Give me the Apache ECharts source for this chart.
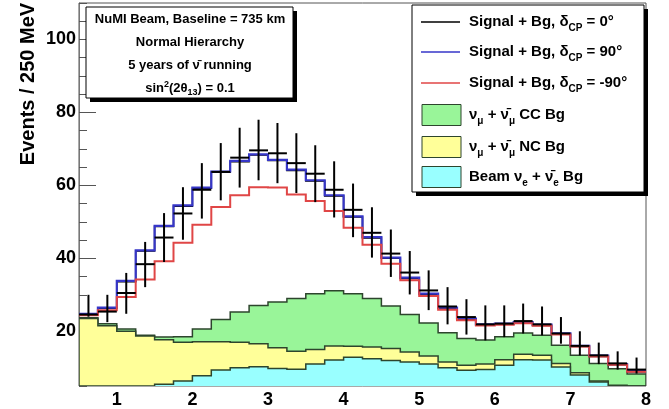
<!DOCTYPE html>
<html>
<head>
<meta charset="utf-8">
<script src="https://cdn.jsdelivr.net/npm/echarts@6/dist/echarts.min.js"></script>
<style>
html,body{margin:0;padding:0;background:#fff;}
#chart{width:669px;height:409px;}
</style>
</head>
<body>
<div id="chart"></div>
<script>
// ---------- data ----------
const binEdges = [0.5,0.75,1.0,1.25,1.5,1.75,2.0,2.25,2.5,2.75,3.0,3.25,3.5,3.75,4.0,4.25,4.5,4.75,5.0,5.25,5.5,5.75,6.0,6.25,6.5,6.75,7.0,7.25,7.5,7.75,8.0];
// background components (events / 250 MeV)
const beamNueBg = [2.5,3.2,4.0,4.9,5.5,6.4,7.8,9.4,10.0,10.3,9.8,9.6,11.0,12.1,12.9,12.5,12.0,11.6,11.0,10.0,9.3,9.5,10.7,12.2,12.1,10.2,8.0,6.1,4.9,4.4];
const ncBg      = [21.0,18.3,16.0,13.8,12.2,10.6,9.3,7.7,7.0,6.3,5.7,4.9,4.0,3.9,3.0,3.2,3.3,2.7,2.2,1.6,1.4,1.5,1.5,1.5,1.3,1.0,0.6,0.3,0.3,0.4];
const ccBg      = [0.2,0.6,0.6,0.2,0.7,1.5,3.5,6.1,8.3,10.5,12.5,14.5,15.3,15.1,14.4,13.3,11.6,10.3,9.1,8.0,7.3,6.6,6.3,5.8,5.5,5.0,4.8,4.8,4.5,3.5];
// signal + background predictions
const sigBgCP0   = [24.6,26.3,33.6,42.0,48.7,54.3,59.2,63.6,66.5,68.3,66.8,64.1,61.2,57.1,51.3,45.6,40.0,34.5,30.1,26.3,23.3,21.7,21.9,22.3,21.6,19.2,15.8,13.1,10.8,8.9];
const sigBgCP90  = [24.8,26.5,33.8,42.2,48.9,54.5,59.4,63.8,66.7,68.5,67.0,64.3,61.4,57.3,51.5,45.8,40.2,34.7,30.3,26.5,23.5,21.9,22.1,22.5,21.8,19.4,16.0,13.3,11.0,9.1];
const sigBgCPm90 = [24.4,25.8,29.4,34.2,39.2,44.3,49.2,54.1,57.3,59.5,59.4,57.5,55.7,53.0,48.4,43.7,38.5,34.0,29.7,25.9,23.0,21.6,21.8,22.2,21.5,19.1,15.8,13.1,10.8,8.9];
// pseudo-data points with error bar extents
const dataVal = [24.6,25.4,30.5,38.4,45.7,52.3,58.8,63.7,67.6,69.6,68.8,66.1,63.2,58.8,53.3,47.0,41.3,36.1,31.2,26.8,23.9,21.9,22.1,22.8,21.9,19.4,16.0,13.4,11.2,9.5];
const dataLo  = [24.0,22.5,24.8,32.1,39.0,45.1,50.9,55.9,59.4,61.4,60.6,57.9,55.4,51.2,45.8,40.2,34.9,30.1,25.8,21.9,19.1,17.5,18.4,19.4,18.9,16.6,13.4,11.0,9.5,8.4];
const dataHi  = [30.0,30.0,36.0,44.5,52.4,59.5,66.1,71.6,75.8,78.0,77.1,74.3,71.0,66.6,60.5,54.0,47.9,42.0,36.7,32.1,28.8,27.1,27.1,27.6,26.8,23.9,20.0,16.9,14.5,12.8];
// axis ticks
const xTickLabels = [1,2,3,4,5,6,7,8];
const yMajorTicks = [20,40,60,80,100];
const yMinorTicks = [5,10,15,25,30,35,45,50,55,65,70,75,85,90,95,105,110];
const Y_MIN = 5, Y_MAX = 110, X_MIN = 0.5, X_MAX = 8;

// ---------- helpers ----------
const FONT = '"Liberation Sans", Arial, Helvetica, sans-serif';
const stackNC = beamNueBg.map((v,i)=>v+ncBg[i]);
const stackCC = stackNC.map((v,i)=>v+ccBg[i]);

function clampV(v){ return Math.max(Y_MIN, Math.min(Y_MAX, v)); }

function histSeries(name, values, fill, stroke, lw, z){
  return {
    type:'custom', name:name, z:z, silent:true, clip:true,
    data:[[binEdges[0], Y_MIN]],
    renderItem:function(params, api){
      const pts = [];
      pts.push(api.coord([binEdges[0], Y_MIN]));
      for(let i=0;i<values.length;i++){
        const v = clampV(values[i]);
        pts.push(api.coord([binEdges[i], v]));
        pts.push(api.coord([binEdges[i+1], v]));
      }
      pts.push(api.coord([binEdges[binEdges.length-1], Y_MIN]));
      const children = [];
      if(fill){
        children.push({type:'polygon', shape:{points:pts}, style:{fill:fill, stroke:null}});
        children.push({type:'polyline', shape:{points:pts}, style:{fill:null, stroke:stroke, lineWidth:lw}});
      } else {
        children.push({type:'polyline', shape:{points:pts.slice(1,-1)}, style:{fill:null, stroke:stroke, lineWidth:lw}});
      }
      return {type:'group', children:children};
    }
  };
}

const pointData = dataVal.map((v,i)=>[i, v, dataLo[i], dataHi[i]]);
const pointsSeries = {
  type:'custom', name:'data', z:10, silent:true, clip:true,
  data: pointData,
  renderItem:function(params, api){
    const i = api.value(0);
    const xl = binEdges[i], xr = binEdges[i+1], xc = (xl+xr)/2;
    const pL = api.coord([xc, clampV(api.value(2))]);
    const pH = api.coord([xc, clampV(api.value(3))]);
    const a = api.coord([xl, clampV(api.value(1))]);
    const b = api.coord([xr, clampV(api.value(1))]);
    return {type:'group', children:[
      {type:'line', shape:{x1:pL[0], y1:pL[1], x2:pH[0], y2:pH[1]}, style:{stroke:'#000', lineWidth:2}},
      {type:'line', shape:{x1:a[0], y1:a[1], x2:b[0], y2:b[1]}, style:{stroke:'#000', lineWidth:2}}
    ]};
  }
};

// composite text with sub/superscripts, built from measured pieces
const measCtx = document.createElement('canvas').getContext('2d');
function measure(t, size){ measCtx.font = 'bold ' + size + 'px ' + FONT; return measCtx.measureText(t).width; }
function compositeText(parts, x, y, align, baseSize, z){
  // parts: [text, size, dy]
  const widths = parts.map(p=>measure(p[0], p[1]));
  const total = widths.reduce((a,b)=>a+b,0);
  let cx = align==='center' ? x - total/2 : x;
  const out = [];
  parts.forEach((p,k)=>{
    const size = p[1], dy = p[2]||0;
    const cy = y + 0.35*baseSize + dy - 0.35*size;
    out.push({type:'text', z:z, x:cx, y:cy, style:{text:p[0], font:'bold '+size+'px '+FONT, fill:'#000', align:'left', verticalAlign:'middle'}});
    cx += widths[k];
  });
  return out;
}

// ---------- legend / text box graphics ----------
const SUB = 4, SUP = -6;
const legendX = 412, legendY = 5, legendW = 232, legendH = 187;
const legendRowsY = [22, 52, 83, 115, 147, 177];
const legendEntries = [
  {kind:'line', color:'#000000', parts:[['Signal + Bg, δ',15],['CP',10,SUB],[' = 0°',15]]},
  {kind:'line', color:'#3636c8', parts:[['Signal + Bg, δ',15],['CP',10,SUB],[' = 90°',15]]},
  {kind:'line', color:'#e04646', parts:[['Signal + Bg, δ',15],['CP',10,SUB],[' = -90°',15]]},
  {kind:'box', color:'#99f599', parts:[['ν',15],['μ',10,SUB],[' + ν̄',15],['μ',10,SUB],[' CC Bg',15]]},
  {kind:'box', color:'#ffff99', parts:[['ν',15],['μ',10,SUB],[' + ν̄',15],['μ',10,SUB],[' NC Bg',15]]},
  {kind:'box', color:'#99ffff', parts:[['Beam ν',15],['e',10,SUB],[' + ν̄',15],['e',10,SUB],[' Bg',15]]}
];
let graphics = [];
// info box
graphics.push({type:'rect', z:100, shape:{x:90, y:11, width:207, height:91}, style:{fill:'#000'}});
graphics.push({type:'rect', z:101, shape:{x:86, y:7, width:207, height:91}, style:{fill:'#fff', stroke:'#000', lineWidth:1}});
const infoLines = [
  [['NuMI Beam, Baseline = 735 km',13]],
  [['Normal Hierarchy',13]],
  [['5 years of ν̄ running',13]],
  [['sin',13],['2',9,-5],['(2θ',13],['13',9,3],[') = 0.1',13]]
];
const infoY = [19, 42, 65, 88];
infoLines.forEach((parts,k)=>{
  graphics = graphics.concat(compositeText(parts, 190, infoY[k], 'center', 13, 102));
});
// legend box
graphics.push({type:'rect', z:100, shape:{x:legendX+4, y:legendY+4, width:legendW, height:legendH}, style:{fill:'#000'}});
graphics.push({type:'rect', z:101, shape:{x:legendX, y:legendY, width:legendW, height:legendH}, style:{fill:'#fff', stroke:'#000', lineWidth:1}});
legendEntries.forEach((e,k)=>{
  const y = legendRowsY[k];
  if(e.kind==='line'){
    graphics.push({type:'line', z:102, shape:{x1:421, y1:y, x2:460, y2:y}, style:{stroke:e.color, lineWidth:1.5}});
  } else {
    graphics.push({type:'rect', z:102, shape:{x:422, y:y-10.5, width:39, height:21}, style:{fill:e.color, stroke:'#2d452d', lineWidth:1}});
  }
  graphics = graphics.concat(compositeText(e.parts, 469, y, 'left', 15, 102));
});
// y-axis title
graphics.push({type:'text', z:50, x:28, y:84, rotation:Math.PI/2, style:{text:'Events / 250 MeV', font:'bold 20px '+FONT, fill:'#000', align:'center', verticalAlign:'middle'}});

// ---------- chart ----------
const chart = echarts.init(document.getElementById('chart'), null, {renderer:'canvas'});
chart.setOption({
  animation:false,
  backgroundColor:'#fff',
  grid:{left:79, top:3, width:567, height:384, show:true, borderColor:'#555', borderWidth:1, backgroundColor:'transparent'},
  xAxis:{type:'value', min:X_MIN, max:X_MAX,
    axisLine:{show:false},
    axisTick:{show:false},
    splitLine:{show:false},
    axisLabel:{customValues:xTickLabels, fontSize:18, fontWeight:'bold', fontFamily:FONT, color:'#000', margin:5}
  },
  yAxis:[
    {type:'value', min:Y_MIN, max:Y_MAX,
      axisLine:{show:true, lineStyle:{color:'#777', width:1}},
      axisTick:{show:true, inside:true, length:17, customValues:yMajorTicks, lineStyle:{color:'#555', width:1}},
      splitLine:{show:false},
      axisLabel:{customValues:yMajorTicks, fontSize:18, fontWeight:'bold', fontFamily:FONT, color:'#000', margin:3}
    },
    {type:'value', min:Y_MIN, max:Y_MAX, position:'left', offset:0,
      axisLine:{show:false},
      axisTick:{show:true, inside:true, length:8, customValues:yMinorTicks, lineStyle:{color:'#555', width:1}},
      splitLine:{show:false},
      axisLabel:{show:false}
    }
  ],
  graphic:graphics,
  series:[
    histSeries('ν_μ + ν̄_μ CC Bg', stackCC, '#99f599', '#2d452d', 1.5, 2),
    histSeries('ν_μ + ν̄_μ NC Bg', stackNC, '#ffff99', '#2d452d', 1.5, 3),
    histSeries('Beam ν_e + ν̄_e Bg', beamNueBg, '#99ffff', '#2d452d', 1.5, 4),
    histSeries('Signal + Bg, δCP = 0°', sigBgCP0, null, '#000000', 1.5, 5),
    histSeries('Signal + Bg, δCP = 90°', sigBgCP90, null, '#3636c8', 2.2, 6),
    histSeries('Signal + Bg, δCP = -90°', sigBgCPm90, null, '#e04646', 2, 7),
    pointsSeries
  ]
});
</script>
</body>
</html>
